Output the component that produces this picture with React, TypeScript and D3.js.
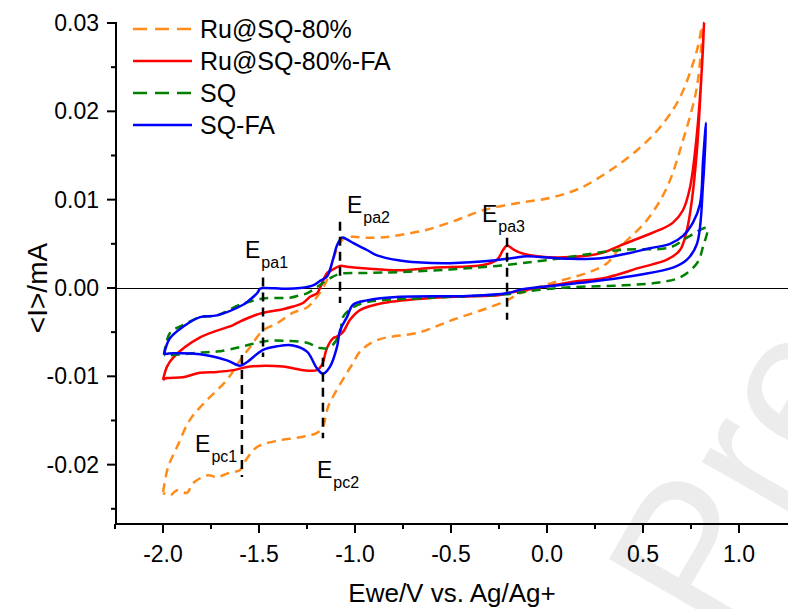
import { useEffect, useRef } from "react";
import * as d3 from "d3";

// potential (V) / current (mA) pairs; each loop = forward branch then return branch
const ru80: [number, number][] = [
  [-2.0, -0.0231], [-1.995, -0.0225], [-1.974, -0.0203], [-1.927, -0.018], [-1.859, -0.0149],
  [-1.771, -0.0127], [-1.667, -0.0104], [-1.599, -0.0082], [-1.547, -0.0067], [-1.479, -0.0048],
  [-1.406, -0.004], [-1.323, -0.0028], [-1.25, -0.0022], [-1.198, -0.001], [-1.146, 0.0009],
  [-1.115, 0.0032], [-1.078, 0.0051], [-1.052, 0.0057], [-1.01, 0.0058], [-0.948, 0.0057],
  [-0.87, 0.0057], [-0.766, 0.006], [-0.625, 0.0066], [-0.469, 0.0077], [-0.333, 0.0088],
  [-0.156, 0.0096], [0.016, 0.0102], [0.172, 0.0113], [0.328, 0.0133], [0.469, 0.0156],
  [0.589, 0.0182], [0.693, 0.0216], [0.781, 0.0269], [0.807, 0.0296],
  [0.781, 0.0228], [0.708, 0.0167], [0.625, 0.0114], [0.521, 0.0077], [0.38, 0.0046],
  [0.313, 0.0028], [0.208, 0.0017], [0.031, 0.0006], [-0.141, -0.0006], [-0.208, -0.0014],
  [-0.313, -0.0023], [-0.49, -0.0036], [-0.661, -0.005], [-0.885, -0.0059], [-0.974, -0.0072],
  [-1.01, -0.0085], [-1.042, -0.0096], [-1.094, -0.0115], [-1.141, -0.0135], [-1.167, -0.0157],
  [-1.198, -0.0164], [-1.286, -0.0169], [-1.406, -0.0173], [-1.51, -0.018], [-1.563, -0.0193],
  [-1.599, -0.0206], [-1.651, -0.0209], [-1.719, -0.0214], [-1.766, -0.0212], [-1.844, -0.0221],
  [-1.875, -0.0232], [-1.927, -0.0229], [-1.964, -0.0235], [-2.0, -0.0232],
];

const ru80FA: [number, number][] = [
  [-2.0, -0.0104], [-1.979, -0.0089], [-1.948, -0.0079], [-1.807, -0.0056], [-1.635, -0.0042],
  [-1.599, -0.0038], [-1.495, -0.0029], [-1.375, -0.0024], [-1.323, -0.0021], [-1.271, -0.0017],
  [-1.234, -0.001], [-1.198, -0.0006], [-1.182, 0.0], [-1.146, 0.0017], [-1.13, 0.0019],
  [-1.078, 0.0025], [-1.042, 0.0024], [-0.938, 0.0022], [-0.766, 0.002], [-0.594, 0.0023],
  [-0.333, 0.0026], [-0.26, 0.0032], [-0.229, 0.0043], [-0.208, 0.0048], [-0.177, 0.0044],
  [-0.141, 0.004], [-0.052, 0.0036], [0.12, 0.0035], [0.292, 0.004], [0.38, 0.0048],
  [0.521, 0.006], [0.589, 0.0066], [0.656, 0.0074], [0.708, 0.0088], [0.745, 0.0114],
  [0.781, 0.0175], [0.807, 0.025], [0.818, 0.03],
  [0.803, 0.0235], [0.781, 0.0156], [0.755, 0.01], [0.729, 0.0066], [0.693, 0.0043],
  [0.625, 0.0032], [0.484, 0.0023], [0.313, 0.0012], [0.135, 0.0007], [0.031, 0.0003],
  [-0.208, -0.0006], [-0.245, -0.0008], [-0.594, -0.0011], [-0.854, -0.0017], [-0.974, -0.0025],
  [-1.026, -0.0036], [-1.063, -0.005], [-1.094, -0.0055], [-1.115, -0.0057], [-1.146, -0.0068],
  [-1.172, -0.0087], [-1.198, -0.0093], [-1.271, -0.0093], [-1.375, -0.0089], [-1.547, -0.0089],
  [-1.635, -0.0093], [-1.719, -0.0095], [-1.807, -0.0096], [-1.896, -0.0101], [-1.979, -0.0102],
  [-2.0, -0.0104],
];

const sq: [number, number][] = [
  [-1.995, -0.0076], [-1.964, -0.0051], [-1.896, -0.0042], [-1.807, -0.0033], [-1.719, -0.0031],
  [-1.599, -0.0019], [-1.479, -0.0012], [-1.339, -0.0011], [-1.286, -0.0008], [-1.25, -0.0006],
  [-1.198, 0.0001], [-1.13, 0.0011], [-1.078, 0.0016], [-0.938, 0.0017], [-0.766, 0.0018],
  [-0.505, 0.0021], [-0.26, 0.0025], [0.016, 0.0032], [0.38, 0.0043], [0.641, 0.0046],
  [0.729, 0.0057], [0.833, 0.0068],
  [0.813, 0.0047], [0.781, 0.0028], [0.693, 0.0012], [0.573, 0.0006], [0.396, 0.0003],
  [0.135, 0.0001], [-0.036, -0.0002], [-0.208, -0.0007], [-0.594, -0.0011], [-0.938, -0.0016],
  [-1.01, -0.0022], [-1.063, -0.0033], [-1.078, -0.0051], [-1.13, -0.0067], [-1.182, -0.0068],
  [-1.25, -0.0062], [-1.354, -0.006], [-1.458, -0.006], [-1.547, -0.0064], [-1.599, -0.0067],
  [-1.719, -0.0072], [-1.807, -0.0073], [-1.948, -0.0076], [-1.995, -0.0076],
];

const sqFA: [number, number][] = [
  [-1.995, -0.0075], [-1.964, -0.0057], [-1.896, -0.0044], [-1.807, -0.0033], [-1.719, -0.0031],
  [-1.583, -0.0019], [-1.563, -0.0016], [-1.51, -0.0006], [-1.495, -0.0001], [-1.479, 0.0],
  [-1.354, -0.0001], [-1.286, 0.0], [-1.219, 0.0003], [-1.182, 0.0008], [-1.146, 0.0013],
  [-1.115, 0.0032], [-1.094, 0.0048], [-1.068, 0.0057], [-1.042, 0.0055], [-1.01, 0.0051],
  [-0.938, 0.0043], [-0.885, 0.0037], [-0.766, 0.0031], [-0.677, 0.0029], [-0.505, 0.0028],
  [-0.281, 0.0031], [-0.177, 0.0034], [-0.104, 0.0036], [-0.036, 0.0035], [0.12, 0.0033],
  [0.292, 0.0034], [0.417, 0.0039], [0.536, 0.0045], [0.641, 0.005], [0.708, 0.0059],
  [0.76, 0.0074], [0.797, 0.0095], [0.813, 0.0145], [0.828, 0.0187],
  [0.813, 0.0119], [0.781, 0.005], [0.729, 0.0032], [0.656, 0.0023], [0.484, 0.0015],
  [0.224, 0.0007], [-0.036, 0.0001], [-0.141, -0.0002], [-0.208, -0.0006], [-0.417, -0.0009],
  [-0.766, -0.001], [-0.938, -0.0014], [-1.01, -0.0019], [-1.042, -0.0033], [-1.078, -0.0048],
  [-1.094, -0.0067], [-1.13, -0.0089], [-1.167, -0.0097], [-1.198, -0.0091], [-1.25, -0.0072],
  [-1.323, -0.0065], [-1.406, -0.0066], [-1.479, -0.007], [-1.563, -0.0084], [-1.599, -0.0088],
  [-1.667, -0.0082], [-1.807, -0.0075], [-1.948, -0.0074], [-1.995, -0.0075],
];

const seriesNames = ["Ru@SQ-80%", "Ru@SQ-80%-FA", "SQ", "SQ-FA"];
const seriesData = [ru80, ru80FA, sq, sqFA];
const seriesColors = ["#ff8c1a", "#ff0000", "#008000", "#0000ff"];
const seriesDashed = [true, false, true, false];

const xMajor = [-2.0, -1.5, -1.0, -0.5, 0.0, 0.5, 1.0];
const xMinor = [-2.25, -1.75, -1.25, -0.75, -0.25, 0.25, 0.75];
const yMajor = [0.03, 0.02, 0.01, 0.0, -0.01, -0.02];
const yMinor = [0.025, 0.015, 0.005, -0.005, -0.015, -0.025];

// peak markers: name, potential, current from / to, label position
const peakNames = ["pa1", "pa2", "pa3", "pc1", "pc2"];
const peakE = [-1.479, -1.078, -0.208, -1.589, -1.167];
const peakFrom = [0.0012, 0.0075, 0.0057, -0.0076, -0.0079];
const peakTo = [-0.0078, -0.0017, -0.0036, -0.0214, -0.017];
const labelE = [-1.573, -1.042, -0.339, -1.833, -1.198];
const labelI = [0.0034, 0.0085, 0.0075, -0.0186, -0.0215];

const FONT = "'Liberation Sans', Arial, Helvetica, sans-serif";

export default function App() {
  const ref = useRef<SVGSVGElement>(null);

  useEffect(() => {
    const width = 788;
    const svg = d3.select(ref.current);
    svg.selectAll("*").remove();

    const x = d3.scaleLinear().domain([-2.2448, 1.2552]).range([116, 788]);
    const y = d3.scaleLinear().domain([-0.02672, 0.03]).range([524, 23]);

    // faint watermark
    svg.append("text")
      .attr("transform", "translate(720,642) rotate(-60)")
      .attr("font-family", FONT)
      .attr("font-size", 200)
      .attr("fill", "#ececec")
      .text("Pre-proof");

    // zero line
    svg.append("line")
      .attr("x1", x(-2.2448)).attr("x2", width)
      .attr("y1", Math.round(y(0)) + 0.5).attr("y2", Math.round(y(0)) + 0.5)
      .attr("stroke", "#000").attr("stroke-width", 1);

    const line = d3.line<[number, number]>()
      .x(d => x(d[0]))
      .y(d => y(d[1]))
      .curve(d3.curveCatmullRom.alpha(0.5));

    svg.append("g")
      .selectAll("path")
      .data(seriesData)
      .join("path")
      .attr("d", d => line(d))
      .attr("fill", "none")
      .attr("stroke", (_, i) => seriesColors[i])
      .attr("stroke-width", 2.5)
      .attr("stroke-linejoin", "round")
      .attr("stroke-dasharray", (_, i) => seriesDashed[i] ? "9,6" : null);

    // peak markers
    const peaks = svg.append("g");
    peakNames.forEach((name, i) => {
      peaks.append("line")
        .attr("x1", x(peakE[i])).attr("x2", x(peakE[i]))
        .attr("y1", y(peakFrom[i])).attr("y2", y(peakTo[i]))
        .attr("stroke", "#000").attr("stroke-width", 2.5)
        .attr("stroke-dasharray", "9,6");
      const t = peaks.append("text")
        .attr("x", x(labelE[i])).attr("y", y(labelI[i]))
        .attr("font-family", FONT)
        .attr("font-size", 23)
        .attr("fill", "#000");
      t.append("tspan").text("E");
      t.append("tspan").attr("dy", 10).attr("dx", 1).attr("font-size", 16).text(name);
    });

    // axes
    const axes = svg.append("g").attr("stroke", "#000").attr("stroke-width", 2);
    axes.append("line").attr("x1", 116).attr("x2", 116).attr("y1", y(0.03) - 1).attr("y2", 525);
    axes.append("line").attr("x1", 115).attr("x2", width).attr("y1", 524).attr("y2", 524);
    axes.selectAll(".xmaj").data(xMajor).join("line")
      .attr("x1", d => x(d)).attr("x2", d => x(d)).attr("y1", 524).attr("y2", 533);
    axes.selectAll(".xmin").data(xMinor).join("line")
      .attr("class", "xmin")
      .attr("x1", d => x(d)).attr("x2", d => x(d)).attr("y1", 524).attr("y2", 529);
    axes.selectAll(".ymaj").data(yMajor).join("line")
      .attr("class", "ymaj")
      .attr("x1", 107).attr("x2", 116).attr("y1", d => y(d)).attr("y2", d => y(d));
    axes.selectAll(".ymin").data(yMinor).join("line")
      .attr("class", "ymin")
      .attr("x1", 111).attr("x2", 116).attr("y1", d => y(d)).attr("y2", d => y(d));

    const labels = svg.append("g").attr("font-family", FONT).attr("font-size", 23).attr("fill", "#000");
    labels.selectAll(".xl").data(xMajor).join("text")
      .attr("class", "xl")
      .attr("x", d => x(d)).attr("y", 562)
      .attr("text-anchor", "middle")
      .text(d => d.toFixed(1));
    labels.selectAll(".yl").data(yMajor).join("text")
      .attr("class", "yl")
      .attr("x", 99).attr("y", d => y(d) + 8)
      .attr("text-anchor", "end")
      .text(d => d.toFixed(2));

    labels.append("text")
      .attr("x", 452).attr("y", 602)
      .attr("font-size", 26)
      .attr("text-anchor", "middle")
      .text("Ewe/V vs. Ag/Ag+");
    labels.append("text")
      .attr("transform", "translate(47,288) rotate(-90)")
      .attr("font-size", 28)
      .attr("text-anchor", "middle")
      .text("<I>/mA");

    // legend
    const legend = svg.append("g").attr("font-family", FONT).attr("font-size", 25);
    seriesNames.forEach((name, i) => {
      const ly = 29 + i * 32;
      legend.append("line")
        .attr("x1", 133).attr("x2", 192).attr("y1", ly).attr("y2", ly)
        .attr("stroke", seriesColors[i]).attr("stroke-width", 2.5)
        .attr("stroke-dasharray", seriesDashed[i] ? "14,8" : null);
      legend.append("text")
        .attr("x", 200).attr("y", ly + 9)
        .text(name);
    });
  }, []);

  return (
    <svg ref={ref} width={788} height={609}
      style={{ position: "absolute", left: 0, top: 0, background: "#fff" }} />
  );
}
